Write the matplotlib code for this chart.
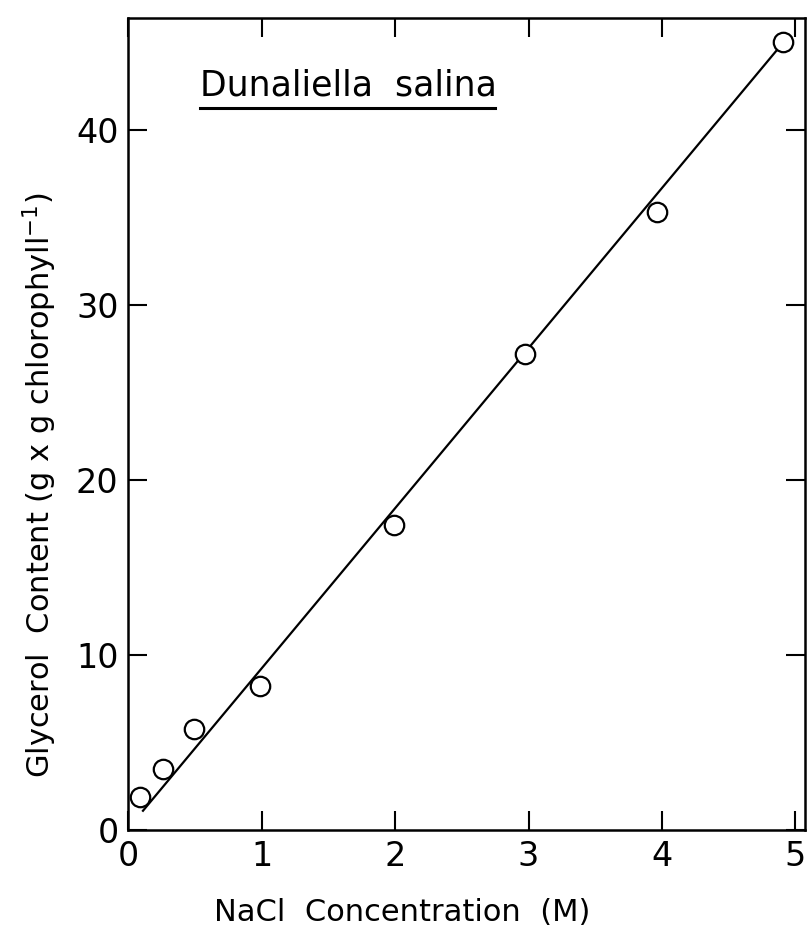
import numpy as np
import matplotlib
matplotlib.use("Agg")
import matplotlib.pyplot as plt

# NaCl concentration (M) vs glycerol content
nacl = [0.09, 0.26, 0.49, 0.99, 1.99, 2.97, 3.96, 4.91]
glycerol = [1.9, 3.5, 5.8, 8.2, 17.4, 27.2, 35.3, 45.0]

# hand-drawn regression line end points
fit_x = [0.11, 4.91]
fit_y = [1.1, 45.0]

x_ticks = [0, 1, 2, 3, 4, 5]
y_ticks = [0, 10, 20, 30, 40]

plt.rcParams['font.family'] = ['DejaVu Sans']

fig = plt.figure(figsize=(8.12, 9.40), dpi=100)
ax = fig.add_axes([0.158, 0.117, 0.833, 0.864])

ax.plot(fit_x, fit_y, '-', color='black', lw=1.6)
ax.plot(nacl, glycerol, 'o', mfc='white', mec='black', ms=14, mew=1.6)

ax.set_xlim(0, 5.07)
ax.set_ylim(0, 46.4)
ax.set_xticks(x_ticks)
ax.set_yticks(y_ticks)
ax.tick_params(direction='in', length=14, width=1.5, labelsize=24,
               top=True, right=True, pad=7, colors='black')
for s in ax.spines.values():
    s.set_linewidth(1.8)

ax.set_xlabel('NaCl  Concentration  (M)', fontsize=22)
ax.set_ylabel(r'Glycerol  Content (g x g chlorophyll$^{-1}$)', fontsize=22)
ax.xaxis.set_label_coords(0.405, -0.084)
ax.yaxis.set_label_coords(-0.103, 0.425)

ax.text(0.106, 0.905, 'Dunaliella  salina', transform=ax.transAxes,
        fontsize=25, ha='left', va='baseline')
ax.plot([0.106, 0.542], [0.889, 0.889], transform=ax.transAxes,
        color='black', lw=2.2, clip_on=False)

fig.savefig('out.png', dpi=100)
